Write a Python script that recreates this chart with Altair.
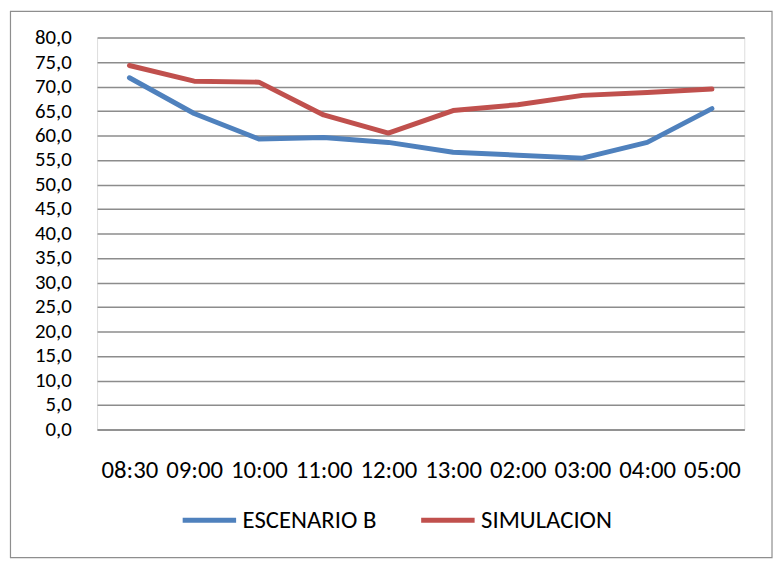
import altair as alt
import pandas as pd

times = ["08:30", "09:00", "10:00", "11:00", "12:00", "13:00", "02:00", "03:00", "04:00", "05:00"]
escenario_b = [71.8, 64.5, 59.3, 59.6, 58.6, 56.6, 56.0, 55.4, 58.6, 65.5]
simulacion = [74.3, 71.1, 70.9, 64.2, 60.5, 65.1, 66.3, 68.2, 68.8, 69.5]
series_names = ["ESCENARIO B", "SIMULACION"]
series_colors = ["#4F81BD", "#C0504D"]
y_ticks = list(range(0, 85, 5))

rows = []
for name, vals in zip(series_names, [escenario_b, simulacion]):
    for t, v in zip(times, vals):
        rows.append({"time": t, "value": v, "series": name})
df = pd.DataFrame(rows)

FONT = "Carlito, Lato, sans-serif"
FS = 25
FS_Y = 21

lines = alt.Chart(df).mark_line(strokeWidth=5, strokeCap="round", strokeJoin="round").encode(
    x=alt.X("time:N", sort=times, title=None,
            axis=alt.Axis(labelAngle=0, ticks=False, domain=True, domainColor="#8c8c8c",
                          domainWidth=1.5, labelPadding=29, labelFontSize=FS, labelFont=FONT,
                          labelColor="#000000", grid=False, labelOverlap=False)),
    y=alt.Y("value:Q", title=None, scale=alt.Scale(domain=[0, 80], nice=False, zero=True),
            axis=alt.Axis(values=y_ticks, ticks=False, domain=False, labelPadding=26,
                          labelFontSize=FS_Y, labelFont=FONT, labelColor="#000000",
                          gridColor="#8c8c8c", gridWidth=1.5, labelOverlap=False,
                          labelExpr="replace(format(datum.value, '.1f'), '.', ',')")),
    color=alt.Color("series:N", scale=alt.Scale(domain=series_names, range=series_colors),
                    legend=alt.Legend(title=None, orient="none", direction="horizontal",
                                      legendX=84, legendY=458, symbolType="stroke",
                                      symbolSize=2916, symbolStrokeWidth=5,
                                      labelFontSize=FS, labelFont=FONT, labelColor="#000000",
                                      columnPadding=34, labelOffset=4, padding=0)),
)

border = alt.Chart(alt.Data(values=[{}])).mark_rect(
    filled=False, stroke="#8e8e8e", strokeWidth=1.2, clip=False
).encode(
    x=alt.value(-87.5), x2=alt.value(682), y=alt.value(-26.5), y2=alt.value(525.5)
)

chart = alt.layer(lines, border).properties(
    width=654, height=396,
    autosize=alt.AutoSizeParams(type="none"),
    padding={"left": 90, "top": 27, "right": 29, "bottom": 131},
).configure_view(stroke=None).configure(background="white")

chart.save("out.html", embed_options={"renderer": "svg", "actions": False})
